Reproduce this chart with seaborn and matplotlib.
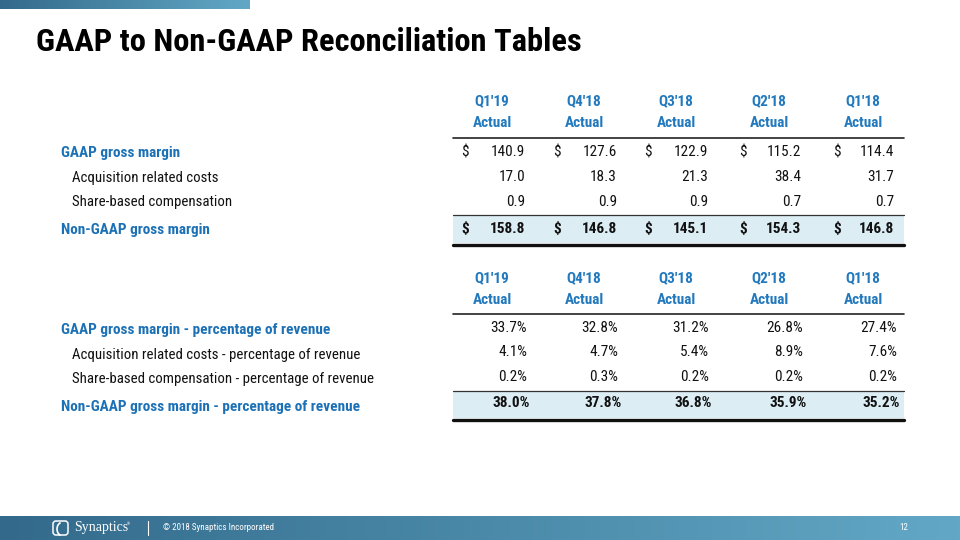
import numpy as np
import matplotlib
matplotlib.use("Agg")
import matplotlib.pyplot as plt
import seaborn as sns
from matplotlib import font_manager
from matplotlib.colors import LinearSegmentedColormap
from matplotlib.patches import FancyBboxPatch, Arc

# ---------------- data ----------------
title = "GAAP to Non-GAAP Reconciliation Tables"
quarters = ["Q1'19", "Q4'18", "Q3'18", "Q2'18", "Q1'18"]
sub_header = "Actual"

t1_labels = ["GAAP gross margin", "Acquisition related costs",
             "Share-based compensation", "Non-GAAP gross margin"]
gaap_gm = [140.9, 127.6, 122.9, 115.2, 114.4]
acq_costs = [17.0, 18.3, 21.3, 38.4, 31.7]
sbc = [0.9, 0.9, 0.9, 0.7, 0.7]
nongaap_gm = [158.8, 146.8, 145.1, 154.3, 146.8]

t2_labels = ["GAAP gross margin - percentage of revenue",
             "Acquisition related costs - percentage of revenue",
             "Share-based compensation - percentage of revenue",
             "Non-GAAP gross margin - percentage of revenue"]
gaap_pct = [33.7, 32.8, 31.2, 26.8, 27.4]
acq_pct = [4.1, 4.7, 5.4, 8.9, 7.6]
sbc_pct = [0.2, 0.3, 0.2, 0.2, 0.2]
nongaap_pct = [38.0, 37.8, 36.8, 35.9, 35.2]

footer_text = "\u00a9 2018 Synaptics Incorporated"
page_no = "12"

# ---------------- style ----------------
sns.set_theme(style="white")
avail = {f.name for f in font_manager.fontManager.ttflist}
fam = [f for f in ["Roboto Condensed", "Liberation Sans", "DejaVu Sans"] if f in avail]
plt.rcParams["font.family"] = fam

BLUE = "#1c71b6"
HBLUE = "#2279bd"
DARK = "#111111"
BAND = "#dcedf4"

fig = plt.figure(figsize=(9.6, 5.4), dpi=100)
ax = fig.add_axes([0, 0, 1, 1])

# gradients
grad = LinearSegmentedColormap.from_list("g", ["#336a8b", "#62a8c6"])
gx = np.linspace(0, 1, 256).reshape(1, -1)
ax.imshow(gx, cmap=grad, extent=(0, 250, 9, 0), aspect="auto", zorder=1)
ax.imshow(gx, cmap=grad, extent=(0, 960, 540, 516), aspect="auto", zorder=1)
ax.set_xlim(0, 960)
ax.set_ylim(540, 0)
ax.axis("off")

# title
ax.text(36, 42, title, fontsize=23.4, fontweight="bold", color="#000000",
        va="center", ha="left")

col_c = [492, 584, 676, 769, 863]
dollar_x = [465, 557, 648, 743, 837]
val_r = [525, 617, 708, 801, 894]
line_x0, line_x1 = 453, 904

body = 11
body_r = 10.7
lab_x0, lab_x1 = 61, 72


def header(y1, y2, yline):
    for c, q in zip(col_c, quarters):
        ax.text(c, y1, q, fontsize=body, fontweight="bold", color=HBLUE,
                ha="center", va="center")
        ax.text(c, y2, sub_header, fontsize=body, fontweight="bold", color=HBLUE,
                ha="center", va="center")
    ax.plot([line_x0, line_x1], [yline, yline], color="#222222", lw=1.2, zorder=3)


def band(ytop, ybot):
    ax.fill_between([line_x0, line_x1], ytop, ybot, color=BAND, zorder=1, lw=0)
    ax.plot([line_x0, line_x1], [ytop, ytop], color="#333333", lw=0.9, zorder=3)
    ax.plot([line_x0, line_x1], [ybot + 1.5, ybot + 1.5], color="#111111", lw=2.4, zorder=3)


# ---------- table 1 ----------
header(101, 123, 138)
band(215, 243)
rows1 = [gaap_gm, acq_costs, sbc, nongaap_gm]
ys1 = [152, 177, 202, 229]
lab_ys1 = [153, 178, 202, 230]
for i, (vals, y) in enumerate(zip(rows1, ys1)):
    bold = i == 3
    fs = body if bold else body_r + 0.3
    for j, v in enumerate(vals):
        if i in (0, 3):
            ax.text(dollar_x[j], y, "$", fontsize=fs, ha="center", va="center",
                    color=DARK, fontweight="bold" if bold else "normal")
        ax.text(val_r[j], y, f"{v:.1f}", fontsize=fs, ha="right", va="center",
                color=DARK, fontweight="bold" if bold else "normal")
for i, (lab, y) in enumerate(zip(t1_labels, lab_ys1)):
    main = i in (0, 3)
    ax.text(lab_x0 if main else lab_x1, y, lab, fontsize=body if main else body_r,
            fontweight="bold" if main else "normal",
            color=BLUE if main else DARK, ha="left", va="center")

# ---------- table 2 ----------
header(278, 300, 314)
band(391, 418)
rows2 = [gaap_pct, acq_pct, sbc_pct, nongaap_pct]
ys2 = [328, 352, 377, 403]
lab_ys2 = [330, 355, 379, 407]
pct_r = [527, 618, 709, 803, 897]
pct_rb = [530, 622, 712, 807, 900]
for i, (vals, y) in enumerate(zip(rows2, ys2)):
    bold = i == 3
    fs = body if bold else body_r + 0.3
    for j, v in enumerate(vals):
        ax.text((pct_rb if bold else pct_r)[j], y, f"{v:.1f}%", fontsize=fs,
                ha="right", va="center", color=DARK,
                fontweight="bold" if bold else "normal")
for i, (lab, y) in enumerate(zip(t2_labels, lab_ys2)):
    main = i in (0, 3)
    ax.text(lab_x0 if main else lab_x1, y, lab, fontsize=body if main else body_r,
            fontweight="bold" if main else "normal",
            color=BLUE if main else DARK, ha="left", va="center")

# ---------- footer ----------
fy = 528
logo = FancyBboxPatch((53, fy - 7), 15, 14, boxstyle="round,pad=0,rounding_size=3",
                      fc="none", ec="white", lw=1.1, zorder=4)
ax.add_patch(logo)
ax.add_patch(Arc((63, fy + 1), 12, 14, theta1=110, theta2=250, color="white", lw=1.2, zorder=4))
ax.text(74, fy, "Synaptics", fontsize=10, color="white", ha="left", va="center",
        family=["Liberation Serif", "DejaVu Serif"], zorder=4)
ax.text(127, fy - 4, "\u00ae", fontsize=3, color="white", ha="left", va="center", zorder=4)
ax.plot([148, 148], [fy - 7, fy + 7], color="white", lw=0.8, zorder=4)
ax.text(163, fy, footer_text, fontsize=6.5, color="white", ha="left", va="center", zorder=4)
ax.text(904, fy, page_no, fontsize=6.5, color="white", ha="center", va="center", zorder=4)

fig.savefig("out.png", dpi=100)
